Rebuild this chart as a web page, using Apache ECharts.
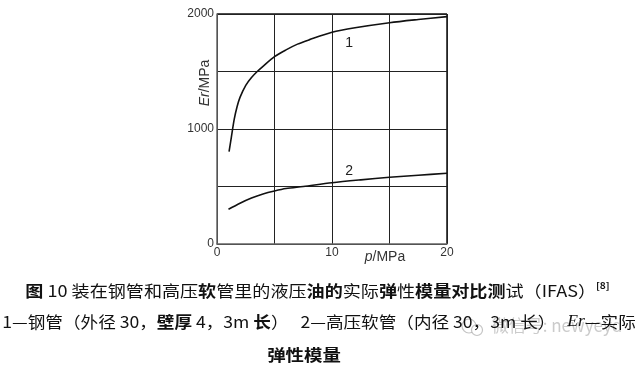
<!DOCTYPE html>
<html><head><meta charset="utf-8">
<script src="https://cdn.jsdelivr.net/npm/echarts@6/dist/echarts.min.js"></script>
<style>html,body{margin:0;padding:0;background:#fff}#c{width:640px;height:370px}</style>
</head><body><div id="c"></div>
<script>
var xTicks = [0, 10, 20];
var yTicks = [0, 1000, 2000];
var curve1P = [1.05, 1.25, 1.5, 1.75, 2.0, 2.5, 3.0, 3.5, 4.0, 5, 6, 7, 8, 10, 12, 15, 17.5, 20];
var curve1E = [803, 930, 1085, 1195, 1275, 1380, 1448, 1500, 1545, 1629, 1688, 1738, 1775, 1841, 1880, 1924, 1952, 1977];
var curve2P = [1, 2, 3, 4, 5, 6, 7.5, 10, 12.5, 15, 17.5, 20];
var curve2E = [302, 355, 400, 435, 461, 482, 500, 533, 558, 580, 598, 615];
var curveLabels = [{name:'1', p:11.5, e:1750}, {name:'2', p:11.5, e:630}];

function pairs(xs, ys){ return xs.map(function(x,i){return [x, ys[i]];}); }

var chart = echarts.init(document.getElementById('c'), null, {renderer:'canvas'});
var sans = 'Liberation Sans, Arial, sans-serif';
var cjk = '"Noto Sans CJK SC", sans-serif';
function labelMark(l){
  return {symbol:'rect', symbolSize:1, itemStyle:{color:'transparent'},
    label:{show:true, formatter:'{b}', color:'#222', fontFamily:sans, fontSize:14},
    data:[{name:l.name, coord:[l.p, l.e]}]};
}
chart.setOption({
  animation:false,
  grid:{left:217, right:193, top:14, bottom:126},
  xAxis:{type:'value', min:0, max:20, interval:5,
    axisLine:{show:true, lineStyle:{color:'#666', width:1.5}},
    axisTick:{show:false},
    splitLine:{show:true, lineStyle:{color:'#222', width:1}},
    axisLabel:{fontFamily:sans, fontSize:12, color:'#333', margin:3,
      formatter:function(v){return xTicks.indexOf(v)>=0 ? String(v) : '';}}
  },
  yAxis:{type:'value', min:0, max:2000, interval:500,
    axisLine:{show:true, lineStyle:{color:'#666', width:1.5}},
    axisTick:{show:false},
    splitLine:{show:true, lineStyle:{color:'#222', width:1}},
    axisLabel:{fontFamily:sans, fontSize:12, color:'#333', margin:3,
      formatter:function(v){return yTicks.indexOf(v)>=0 ? String(v) : '';}}
  },
  series:[
    {type:'line', data:pairs(curve1P, curve1E), smooth:0.3, showSymbol:false,
     lineStyle:{color:'#111', width:1.6}, markPoint:labelMark(curveLabels[0])},
    {type:'line', data:pairs(curve2P, curve2E), smooth:0.3, showSymbol:false,
     lineStyle:{color:'#111', width:1.6}, markPoint:labelMark(curveLabels[1])}
  ],
  graphic:[
    {type:'line', shape:{x1:217, y1:14, x2:447, y2:14}, style:{stroke:'#111', lineWidth:1.5}},
    {type:'line', shape:{x1:447, y1:14, x2:447, y2:244}, style:{stroke:'#111', lineWidth:1.5}},
    {type:'text', x:205, y:83, rotation:Math.PI/2,
      style:{text:'{i|Er}{n|/MPa}', align:'center', verticalAlign:'middle',
        rich:{i:{fontFamily:sans, fontStyle:'italic', fontSize:14, fill:'#333'},
              n:{fontFamily:sans, fontSize:14, fill:'#333'}}}},
    {type:'text', x:385, y:257,
      style:{text:'{i|p}{n|/MPa}', align:'center', verticalAlign:'middle',
        rich:{i:{fontFamily:sans, fontStyle:'italic', fontSize:14, fill:'#333'},
              n:{fontFamily:sans, fontSize:14, fill:'#333'}}}},
    {type:'text', x:317.5, y:291, scaleX:1.13,
      style:{text:'{b|图}{n| 10 装在钢管和高压}{b|软}{n|管里的液压}{b|油的}{n|实际}{b|弹}{n|性}{b|模量对比测}{n|试（IFAS）}{s|[8]}',
        align:'center', verticalAlign:'middle',
        rich:{b:{fontFamily:cjk, fontWeight:'bold', fontSize:16, fill:'#111'},
              n:{fontFamily:cjk, fontSize:16, fill:'#111'},
              s:{fontFamily:cjk, fontWeight:'bold', fontSize:9, fill:'#111', verticalAlign:'top', padding:[0,0,10,0]}}}},
    {type:'circle', shape:{cx:469, cy:326, r:7}, style:{fill:'none', stroke:'rgba(170,170,170,0.7)', lineWidth:1.2}},
    {type:'circle', shape:{cx:477, cy:330, r:5.5}, style:{fill:'#fff', stroke:'rgba(170,170,170,0.7)', lineWidth:1.2}},
    {type:'text', x:557, y:326,
      style:{text:'微信号: newyeyd', align:'center', verticalAlign:'middle',
        fontFamily:cjk, fontSize:17, fill:'rgba(175,175,175,0.65)'}},
    {type:'text', x:319, y:322, scaleX:1.10,
      style:{text:'{n|1—钢管（外径 30，}{b|壁厚}{n| 4，3m }{b|长}{n|）   2—高压软管（内径 30，3m 长）   }{i|Er}{n|—实际}',
        align:'center', verticalAlign:'middle',
        rich:{b:{fontFamily:cjk, fontWeight:'bold', fontSize:16, fill:'#111'},
              n:{fontFamily:cjk, fontSize:16, fill:'#111'},
              i:{fontFamily:'Liberation Serif, serif', fontStyle:'italic', fontSize:16, fill:'#111'}}}},
    {type:'text', x:304, y:355, scaleX:1.15,
      style:{text:'弹性模量', align:'center', verticalAlign:'middle',
        fontFamily:cjk, fontWeight:'bold', fontSize:16, fill:'#111'}}
  ]
});
</script></body></html>
